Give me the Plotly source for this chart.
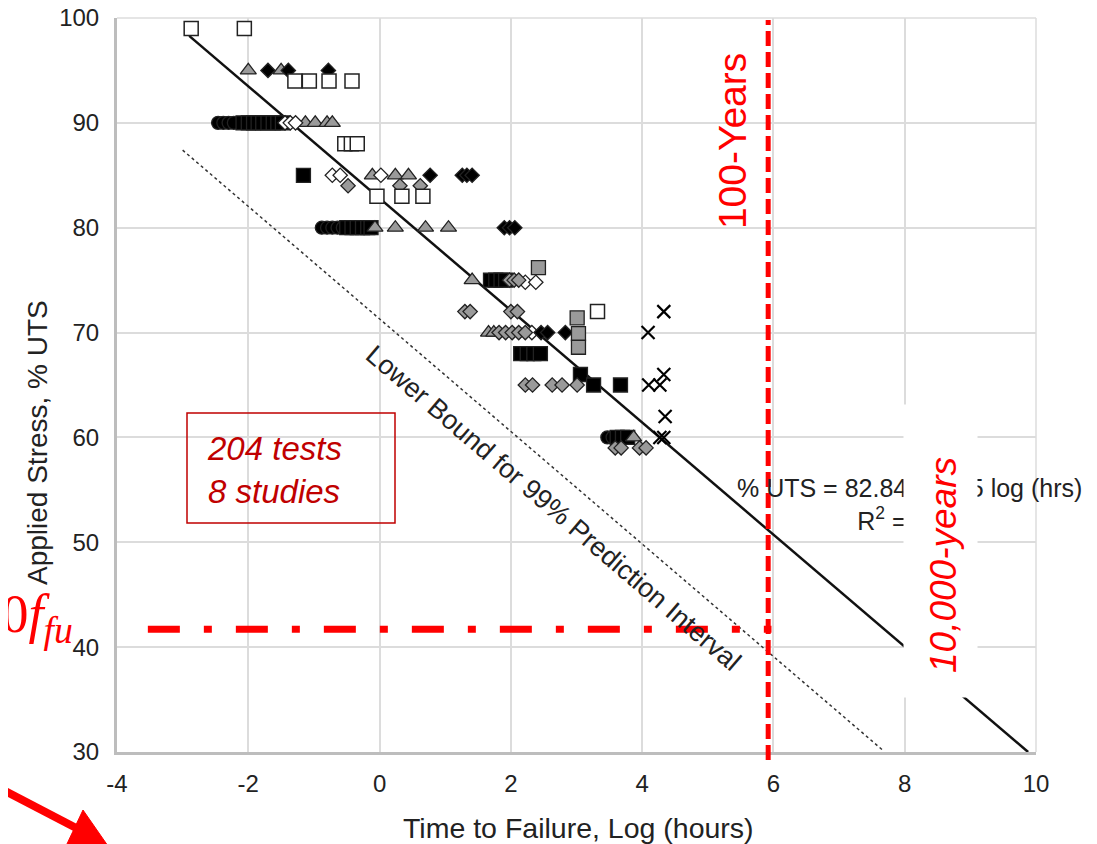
import plotly.graph_objects as go

# ---------------- data ----------------
open_sq_x = [-2.87, -2.06, -1.29, -1.07, -0.77, -0.42, -0.53, -0.43, -0.34, -0.04, 0.34, 0.66, 3.32]
open_sq_y = [99, 99, 94, 94, 94, 94, 88, 88, 88, 83, 83, 83, 72]

blk_dia_x = [-1.70, -1.39, -0.78, 0.77, 1.26, 1.33, 1.41, 1.90, 1.98, 2.06, 2.46, 2.56, 2.83]
blk_dia_y = [95, 95, 95, 85, 85, 85, 85, 80, 80, 80, 70, 70, 70]

gry_tri_x = [-2.0, -1.5, -1.13, -0.98, -0.80, -0.72, -0.11, 0.24, 0.44, -0.07, 0.24, 0.70, 1.05, 1.41, 1.66, 1.74, 3.87]
gry_tri_y = [95, 95, 90, 90, 90, 90, 85, 85, 85, 80, 80, 80, 80, 75, 70, 70, 60]

blk_cir_x = [-2.46, -2.38, -2.30, -2.22, -0.88, -0.80, -0.72, -0.64, -0.56, 3.47, 3.55]
blk_cir_y = [90, 90, 90, 90, 80, 80, 80, 80, 80, 60, 60]

blk_sq_x = [-2.08, -2.0, -1.92, -1.85, -1.78, -1.70, -1.62, -1.55, -1.48, -1.16,
            -0.50, -0.42, -0.34, -0.26, -0.18, -0.13, 1.69, 1.77, 1.85, 1.92,
            2.15, 2.25, 2.35, 2.45, 3.06, 3.26, 3.67, 3.62, 3.70, 3.78]
blk_sq_y = [90, 90, 90, 90, 90, 90, 90, 90, 90, 85,
            80, 80, 80, 80, 80, 80, 75, 75, 75, 75,
            68, 68, 68, 68, 66, 65, 65, 60, 60, 60]

gry_dia_x = [-0.48, 0.31, 0.62, 1.98, 2.05, 2.12, 1.30, 1.38, 2.0, 2.10, 1.82, 1.92, 2.02, 2.12, 2.22,
             2.22, 2.33, 2.63, 2.78, 3.01, 3.59, 3.68, 3.96, 4.06]
gry_dia_y = [84, 84, 84, 75, 75, 75, 72, 72, 72, 72, 70, 70, 70, 70, 70,
             65, 65, 65, 65, 65, 59, 59, 59, 59]

opn_dia_x = [-1.44, -1.36, -1.28, -0.72, -0.60, 0.02, 2.22, 2.38, 2.32]
opn_dia_y = [90, 90, 90, 85, 85, 85, 74.8, 74.8, 70]

gry_sq_x = [2.42, 3.01, 3.03, 3.03]
gry_sq_y = [76.2, 71.4, 69.9, 68.6]

x_mk_x = [4.09, 4.33, 4.33, 4.10, 4.27, 4.35, 4.27, 4.33]
x_mk_y = [70, 72, 66, 65, 65, 62, 60, 60]

trend_x = [-2.9, 9.88]
trend_y = [98.3, 30.0]
lower_x = [-3.0, 7.66]
lower_y = [87.4, 30.2]

limit_x = [-3.53, 5.97]      # 0.40 f_fu line
limit_y = [41.7, 41.7]
years100_x = 5.92            # log10(hours in 100 years)

x_ticks = [-4, -2, 0, 2, 4, 6, 8, 10]
y_ticks = [30, 40, 50, 60, 70, 80, 90, 100]

# ---------------- figure ----------------
# page body has an 8px margin, so the figure is laid out 8px smaller
W, H = 1089, 836
L, T = 109, 10
PW, PH = 919, 734
R, B = W - L - PW, H - T - PH

# helpers: page pixel -> paper fraction (plot area spans page x 117..1036, y 18..752)
def px(xp):
    return (xp - 117) / PW


def py(yp):
    return (752 - yp) / PH


OUT = "#222222"
GRAY = "#9a9a9a"
GRID = "#dcdcdc"

fig = go.Figure()

fig.add_trace(go.Scatter(x=lower_x, y=lower_y, mode="lines",
                         line=dict(color="#333333", width=1.5, dash="dot"), hoverinfo="skip"))
fig.add_trace(go.Scatter(x=trend_x, y=trend_y, mode="lines",
                         line=dict(color="#111111", width=2.5), hoverinfo="skip"))


def mk(xs, ys, symbol, fill, size, lw=1.3, lc=OUT):
    fig.add_trace(go.Scatter(x=xs, y=ys, mode="markers",
                             marker=dict(symbol=symbol, color=fill, size=size,
                                         line=dict(color=lc, width=lw))))


mk(blk_cir_x, blk_cir_y, "circle", "#000000", 13)
mk(blk_sq_x, blk_sq_y, "square", "#000000", 14)
mk(gry_tri_x, gry_tri_y, "triangle-up", GRAY, 14)
mk(opn_dia_x, opn_dia_y, "diamond", "#ffffff", 11)
mk(gry_dia_x, gry_dia_y, "diamond", GRAY, 11)
mk(blk_dia_x, blk_dia_y, "diamond", "#000000", 11)
mk(gry_sq_x, gry_sq_y, "square", GRAY, 14)
mk(open_sq_x, open_sq_y, "square", "#ffffff", 14, 1.5)
mk(x_mk_x, x_mk_y, "x-thin", "#000000", 13, 2.2, "#000000")

fig.add_trace(go.Scatter(x=limit_x, y=limit_y, mode="lines",
                         line=dict(color="#ff0000", width=7, dash="32px,24px,8px,24px"),
                         hoverinfo="skip"))

shapes = []
# top and right grid lines (edges of the plot area)
shapes.append(dict(type="line", xref="paper", yref="paper", x0=0, x1=1, y0=1, y1=1,
                   layer="below", line=dict(color=GRID, width=1.5)))
shapes.append(dict(type="line", xref="paper", yref="paper", x0=1, x1=1, y0=0, y1=1,
                   layer="below", line=dict(color=GRID, width=1.5)))
# 100-year vertical line
shapes.append(dict(type="line", xref="x", yref="paper", x0=years100_x, x1=years100_x,
                   y0=py(760), y1=py(20), line=dict(color="#ff0000", width=5, dash="15px,6px")))
# box around "204 tests"
shapes.append(dict(type="rect", xref="paper", yref="paper", x0=px(187), x1=px(395),
                   y0=py(523), y1=py(413), line=dict(color="#c00000", width=1.5)))
# red arrow bottom-left
shapes.append(dict(type="line", xref="paper", yref="paper", x0=px(-12), y0=py(782),
                   x1=px(80), y1=py(830), line=dict(color="#ff0000", width=8)))
hx = [px(83), px(108), px(66)]
hy = [py(810), py(846), py(846)]
shapes.append(dict(type="path", xref="paper", yref="paper",
                   path=f"M {hx[0]},{hy[0]} L {hx[1]},{hy[1]} L {hx[2]},{hy[2]} Z",
                   fillcolor="#ff0000", line=dict(color="#ff0000", width=1)))

FONT = "Liberation Sans, Arial, sans-serif"
C = dict(xanchor="center", yanchor="middle", showarrow=False)
anns = []
anns.append(dict(xref="x", yref="y", x=8.07, y=53.6, **C,
                 text="% UTS = 82.84 \u2013 5.35 log (hrs)<br>R<sup>2</sup> = 0.86",
                 align="center", font=dict(family=FONT, size=25, color="#222222")))
# white box behind "10,000-years"
anns.append(dict(xref="paper", yref="paper", x=px(940.5), y=py(551), **C,
                 text=" ", width=73, height=292, bgcolor="#ffffff", borderpad=0))
anns.append(dict(xref="paper", yref="paper", x=px(943), y=py(565), **C,
                 text="<i>10,000-years</i>", textangle=-90,
                 font=dict(family=FONT, size=37, color="#ff0000")))
anns.append(dict(xref="x", yref="y", x=5.375, y=88.3, **C,
                 text="100-Years", textangle=-90,
                 font=dict(family=FONT, size=39, color="#ff0000")))
anns.append(dict(xref="x", yref="y", x=2.646, y=53.3, **C,
                 text="Lower Bound for 99% Prediction Interval", textangle=40.6,
                 font=dict(family=FONT, size=27, color="#222222")))
anns.append(dict(xref="paper", yref="paper", x=px(205), y=py(470), showarrow=False,
                 xanchor="left", yanchor="middle", align="left",
                 text="<i>204 tests<br>8 studies</i>",
                 font=dict(family=FONT, size=33, color="#c00000")))
anns.append(dict(xref="paper", yref="paper", x=px(75), y=py(617), showarrow=False,
                 xanchor="right", yanchor="middle",
                 text="0.40<i>f</i><sub><i>fu</i></sub>",
                 font=dict(family="Liberation Serif, Times New Roman, serif", size=54, color="#ff0000")))
anns.append(dict(xref="paper", yref="paper", x=px(38), y=py(443), **C,
                 text="Applied Stress, % UTS", textangle=-90,
                 font=dict(family=FONT, size=28, color="#222222")))
anns.append(dict(xref="paper", yref="paper", x=px(578), y=py(828), **C,
                 text="Time to Failure, Log (hours)",
                 font=dict(family=FONT, size=28.5, color="#222222")))

fig.update_layout(
    width=W, height=H, margin=dict(l=L, r=R, t=T, b=B, autoexpand=False),
    paper_bgcolor="#ffffff", plot_bgcolor="#ffffff",
    showlegend=False, shapes=shapes, annotations=anns,
    font=dict(family=FONT, color="#222222"),
)
fig.update_xaxes(range=[-4, 10], tickvals=x_ticks, ticktext=[str(v) for v in x_ticks],
                 showgrid=True, gridcolor=GRID, gridwidth=1.5, zeroline=False,
                 showline=True, linecolor="#bdbdbd", linewidth=3, mirror=False, automargin=False,
                 ticklabeloverflow="allow",
                 ticks="", ticklabelstandoff=8, tickfont=dict(size=24, family=FONT, color="#222222"))
fig.update_yaxes(range=[30, 100], tickvals=y_ticks, ticktext=[str(v) for v in y_ticks],
                 showgrid=True, gridcolor=GRID, gridwidth=1.5, zeroline=False,
                 showline=True, linecolor="#bdbdbd", linewidth=3, automargin=False,
                 ticklabeloverflow="allow",
                 ticks="", ticklabelstandoff=10, tickfont=dict(size=24, family=FONT, color="#222222"))

fig.write_html("out.html")
